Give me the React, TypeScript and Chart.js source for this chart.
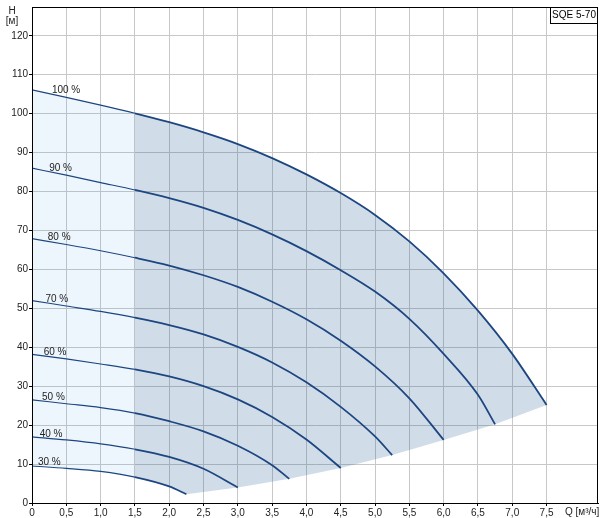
import React, { useEffect, useRef } from 'react';
import { Chart, registerables } from 'chart.js';

Chart.register(...registerables);

const FONT = "'Liberation Sans', Arial, sans-serif";
const LINE_COLOR = '#1d4680';
const LIGHT_FILL = 'rgba(42,142,230,0.08)';
const DARK_FILL = 'rgba(20,85,145,0.2)';

// Q values (m³/h) and heads H (m) for each speed curve
const Q100 = [0, 0.5, 1, 1.5, 2, 2.5, 3, 3.5, 4, 4.5, 5, 5.5, 6, 6.5, 7, 7.5];
const H100 = [106.1, 104.2, 102.2, 100.1, 97.8, 95.2, 92.2, 88.6, 84.4, 79.6, 74.0, 67.2, 59.0, 49.4, 38.3, 25.2];
const Q90 = [0, 0.5, 1, 1.5, 2, 2.5, 3, 3.5, 4, 4.5, 5, 5.5, 6, 6.5, 6.75];
const H90 = [86.0, 84.2, 82.3, 80.4, 78.3, 75.8, 72.7, 69.0, 64.7, 59.8, 54.3, 47.3, 38.3, 27.8, 20.2];
const Q80 = [0, 0.5, 1, 1.5, 2, 2.5, 3, 3.5, 4, 4.5, 5, 5.5, 6];
const H80 = [67.9, 66.4, 64.8, 63.0, 61.0, 58.5, 55.5, 51.7, 47.2, 41.7, 35.1, 26.9, 16.2];
const Q70 = [0, 0.5, 1, 1.5, 2, 2.5, 3, 3.5, 4, 4.5, 5, 5.25];
const H70 = [52.0, 50.6, 49.2, 47.6, 45.7, 43.3, 40.1, 36.1, 31.0, 24.7, 17.1, 12.3];
const Q60 = [0, 0.5, 1, 1.5, 2, 2.5, 3, 3.5, 4, 4.5];
const H60 = [38.2, 37.0, 35.7, 34.3, 32.5, 30.0, 26.6, 22.1, 16.3, 9.0];
const Q50 = [0, 0.5, 1, 1.5, 2, 2.5, 3, 3.5, 3.75];
const H50 = [26.5, 25.5, 24.5, 23.1, 21.0, 18.4, 14.7, 9.7, 6.2];
const Q40 = [0, 0.5, 1, 1.5, 2, 2.5, 3];
const H40 = [17.0, 16.2, 15.2, 13.8, 11.85, 8.8, 4.0];
const Q30 = [0, 0.5, 1, 1.5, 2, 2.25];
const H30 = [9.5, 8.9, 8.1, 6.65, 4.25, 2.25];

// lower boundary of the operating range (curve end points)
const QMIN = [2.25, 3, 3.75, 4.5, 5.25, 6, 6.75, 7.5];
const HMIN = [2.25, 4.0, 6.2, 9.0, 12.3, 16.2, 20.2, 25.2];

const CURVE_LABELS = ['100 %', '90 %', '80 %', '70 %', '60 %', '50 %', '40 %', '30 %'];
const LABEL_Q = [0.29, 0.25, 0.23, 0.195, 0.17, 0.146, 0.112, 0.087];
const CURVE_Q = [Q100, Q90, Q80, Q70, Q60, Q50, Q40, Q30];
const CURVE_H = [H100, H90, H80, H70, H60, H50, H40, H30];

const SPLIT_Q = 1.5;
const MODEL = 'SQE 5-70';
const Y_TITLE = ['H', '[м]'];
const X_TITLE = 'Q [м³/ч]';
const X_MAX = 8.25;
const Y_MAX = 127.4;

const pts = (qs: number[], hs: number[]) => qs.map((q, i) => ({ x: q, y: hs[i] }));

function interp(qs: number[], hs: number[], q: number) {
  for (let i = 0; i < qs.length - 1; i++) {
    if (q >= qs[i] && q <= qs[i + 1]) {
      const t = (q - qs[i]) / (qs[i + 1] - qs[i]);
      return hs[i] + t * (hs[i + 1] - hs[i]);
    }
  }
  return hs[0];
}

const overlay = {
  id: 'overlay',
  afterDatasetsDraw(chart: any) {
    const { ctx, scales } = chart;
    const x = scales.x, y = scales.y;
    ctx.save();
    ctx.font = `10px ${FONT}`;
    ctx.fillStyle = '#222';
    ctx.textAlign = 'left';
    ctx.textBaseline = 'alphabetic';
    CURVE_LABELS.forEach((lab, i) => {
      const q = LABEL_Q[i];
      const h = interp(CURVE_Q[i], CURVE_H[i], q);
      ctx.fillText(lab, x.getPixelForValue(q), y.getPixelForValue(h) - 1);
    });
    ctx.restore();
  },
  afterDraw(chart: any) {
    const { ctx, chartArea: a } = chart;
    ctx.save();
    ctx.strokeStyle = '#000';
    ctx.lineWidth = 1;
    const L = Math.round(a.left), T = Math.round(a.top), R = Math.round(a.right), B = Math.round(a.bottom);
    ctx.strokeRect(L + 0.5, T + 0.5, R - L - 1, B - T);
    // model box
    ctx.fillStyle = '#fff';
    ctx.fillRect(R - 48, T, 48, 16);
    ctx.strokeRect(R - 48 + 0.5, T + 0.5, 47, 16);
    ctx.fillStyle = '#000';
    ctx.font = `10px ${FONT}`;
    ctx.textAlign = 'center';
    ctx.textBaseline = 'middle';
    ctx.fillText(MODEL, R - 24, T + 8.5);
    // axis titles
    ctx.fillStyle = '#222';
    ctx.fillText(Y_TITLE[0], 12, 11);
    ctx.fillText(Y_TITLE[1], 12, 21.5);
    ctx.textAlign = 'left';
    ctx.fillText(X_TITLE, R - 33, B + 9.5);
    ctx.restore();
  },
};

export default function App() {
  const ref = useRef<HTMLCanvasElement>(null);
  useEffect(() => {
    if (!ref.current) return;
    const curveSets = CURVE_Q.map((qs, i) => ({
      type: 'line' as const,
      data: pts(qs, CURVE_H[i]),
      borderColor: LINE_COLOR,
      borderWidth: 1.8,
      pointRadius: 0,
      fill: false,
      cubicInterpolationMode: 'monotone' as const,
      order: 0,
      segment: {
        borderWidth: (c: any) => (c.p0.parsed.x >= SPLIT_Q - 1e-9 ? 1.8 : 1.2),
      },
    }));
    const idxL30 = Q30.filter((q) => q <= SPLIT_Q).map((q) => Q30.indexOf(q));
    const idxL100 = Q100.filter((q) => q <= SPLIT_Q).map((q) => Q100.indexOf(q));
    const idxR30 = Q30.filter((q) => q >= SPLIT_Q && q < QMIN[0]).map((q) => Q30.indexOf(q));
    const idxR100 = Q100.filter((q) => q >= SPLIT_Q).map((q) => Q100.indexOf(q));
    const hidden = {
      borderColor: 'rgba(0,0,0,0)',
      borderWidth: 0,
      pointRadius: 0,
      order: 10,
    };
    const fillSets = [
      { ...hidden, data: idxL30.map((i) => ({ x: Q30[i], y: H30[i] })), fill: false, cubicInterpolationMode: 'monotone' },
      { ...hidden, data: idxL100.map((i) => ({ x: Q100[i], y: H100[i] })), fill: { target: '-1', above: LIGHT_FILL, below: LIGHT_FILL }, cubicInterpolationMode: 'monotone' },
      { ...hidden, data: [...idxR30.map((i) => ({ x: Q30[i], y: H30[i] })), ...pts(QMIN, HMIN)], fill: false },
      { ...hidden, data: idxR100.map((i) => ({ x: Q100[i], y: H100[i] })), fill: { target: '-1', above: DARK_FILL, below: DARK_FILL }, cubicInterpolationMode: 'monotone' },
    ];
    const keepMultiples = (step: number) => (scale: any) => {
      scale.ticks = scale.ticks.filter((t: any) => Math.abs(t.value / step - Math.round(t.value / step)) < 1e-6);
    };
    const chart = new Chart(ref.current, {
      type: 'line',
      data: { datasets: [...fillSets, ...curveSets] as any },
      plugins: [overlay],
      options: {
        animation: false,
        responsive: false,
        maintainAspectRatio: false,
        layout: { padding: { left: 0, top: 6, right: 4, bottom: 0 } },
        plugins: { legend: { display: false }, tooltip: { enabled: false } },
        elements: { point: { radius: 0 } },
        scales: {
          x: {
            type: 'linear',
            min: 0,
            max: X_MAX,
            afterBuildTicks: keepMultiples(0.5),
            afterFit: (s: any) => { s.height = 15; },
            ticks: {
              stepSize: 0.5,
              padding: 1,
              color: '#222',
              font: { family: FONT, size: 10 },
              maxRotation: 0,
              autoSkip: false,
              callback: (v: any) => {
                const n = Number(v);
                if (n > 7.6) return '';
                if (n === 0) return '0';
                return n.toFixed(1).replace('.', ',');
              },
            },
            grid: { color: '#c8c8c8', tickColor: '#000', tickLength: 3, lineWidth: 1 },
            border: { display: true, color: '#000', width: 1 },
          },
          y: {
            type: 'linear',
            min: 0,
            max: Y_MAX,
            afterBuildTicks: keepMultiples(10),
            afterFit: (s: any) => { s.width = 32; },
            ticks: {
              stepSize: 10,
              padding: 1,
              color: '#222',
              font: { family: FONT, size: 10 },
              autoSkip: false,
              callback: (v: any) => String(v),
            },
            grid: { color: '#c8c8c8', tickColor: '#000', tickLength: 3, lineWidth: 1 },
            border: { display: true, color: '#000', width: 1 },
          },
        },
      } as any,
    });
    return () => chart.destroy();
  }, []);
  return (
    <div style={{ position: 'absolute', left: 0, top: 0, width: 602, height: 518, background: '#fff' }}>
      <canvas ref={ref} width={602} height={518} style={{ display: 'block', width: 602, height: 518 }} />
    </div>
  );
}
